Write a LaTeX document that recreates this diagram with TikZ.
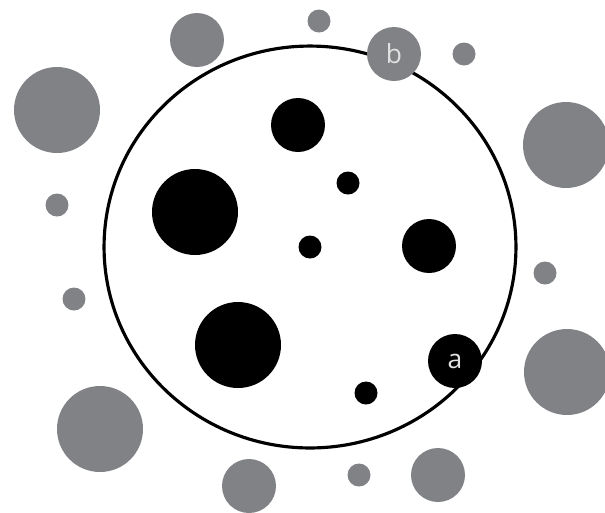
\documentclass[tikz,border=0pt]{standalone}
\usepackage{fontspec}
\setsansfont{Open Sans}
\usepackage{xcolor}
\usepackage{tikz}
\definecolor{dotgray}{RGB}{128,130,133}
\definecolor{dotblack}{RGB}{0,0,0}
\definecolor{labelgray}{RGB}{225,225,225}

\tikzset{
  dot/.style={circle, inner sep=0pt, draw=none},
  dotsmall/.style={dot, minimum size=0.46cm},
  dotmid/.style={dot, minimum size=1.08cm},
  dotlarge/.style={dot, minimum size=1.72cm},
  indot/.style={fill=dotblack},
  outdot/.style={fill=dotgray},
  dotlabel/.style={text=labelgray, font=\sffamily\fontsize{15}{15}\selectfont}
}

\begin{document}
\begin{tikzpicture}[x=0.02cm, y=-0.02cm]
        \useasboundingbox (0,0) rectangle (605,512);
        % boundary
        \draw[line width=1.8pt] (310,247) ellipse [x radius=4.12cm, y radius=4.02cm];
        % dots inside
        \node[dotmid, indot] (inA) at (298,125) {};
        \node[dotsmall, indot] (inB) at (348,183) {};
        \node[dotlarge, indot] (inC) at (195,212) {};
        \node[dotsmall, indot] (inD) at (310,247) {};
        \node[dotmid, indot] (inE) at (429,246) {};
        \node[dotlarge, indot] (inF) at (238,345) {};
        \node[dotsmall, indot] (inH) at (366,393) {};
        \node[dotmid, indot, dotlabel] (a) at (455,361) {a};
        % dots outside
        \node[dotmid, outdot] (outA) at (197,40) {};
        \node[dotsmall, outdot] (outB) at (319,21) {};
        \node[dotmid, outdot, dotlabel] (b) at (394,54) {b};
        \node[dotsmall, outdot] (outC) at (464,54) {};
        \node[dotlarge, outdot] (outD) at (57,110) {};
        \node[dotlarge, outdot] (outE) at (566,145) {};
        \node[dotsmall, outdot] (outF) at (57,205) {};
        \node[dotsmall, outdot] (outG) at (545,273) {};
        \node[dotsmall, outdot] (outH) at (74,299) {};
        \node[dotlarge, outdot] (outI) at (567,372) {};
        \node[dotlarge, outdot] (outJ) at (100,429) {};
        \node[dotmid, outdot] (outK) at (249,486) {};
        \node[dotsmall, outdot] (outL) at (359,475) {};
        \node[dotmid, outdot] (outM) at (438,475) {};
    \end{tikzpicture}
\end{document}
